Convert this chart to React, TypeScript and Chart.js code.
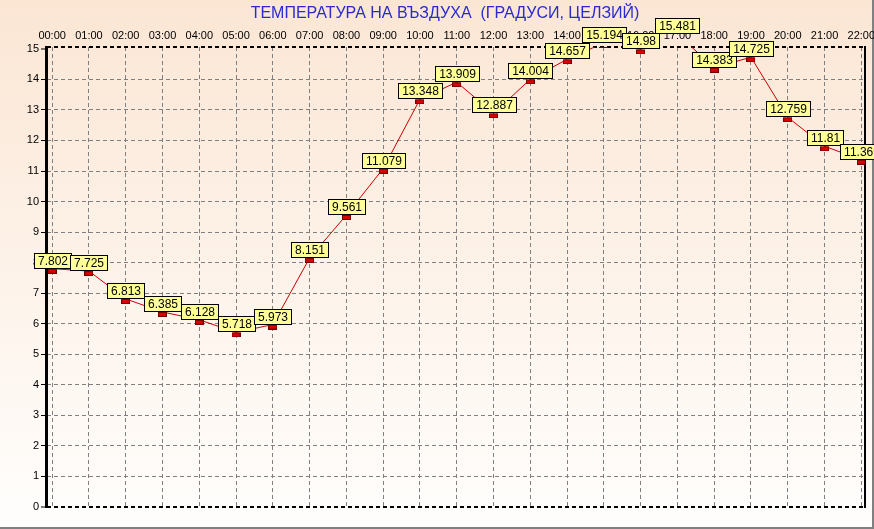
import React, { useEffect, useRef } from 'react';
import { Chart, registerables } from 'chart.js';

Chart.register(...registerables);

const TITLE = 'ТЕМПЕРАТУРА НА ВЪЗДУХА  (ГРАДУСИ, ЦЕЛЗИЙ)';
const hours = [
  '00:00', '01:00', '02:00', '03:00', '04:00', '05:00', '06:00', '07:00',
  '08:00', '09:00', '10:00', '11:00', '12:00', '13:00', '14:00', '15:00',
  '16:00', '17:00', '18:00', '19:00', '20:00', '21:00', '22:00',
];
const temps = [
  7.802, 7.725, 6.813, 6.385, 6.128, 5.718, 5.973, 8.151, 9.561, 11.079,
  13.348, 13.909, 12.887, 14.004, 14.657, 15.194, 14.98, 15.481, 14.383,
  14.725, 12.759, 11.81, 11.369,
];
const Y_MIN = 0;
const Y_MAX = 15.06;
const Y_TOP_TICK = 15;

const FONT = 'Arial, "Liberation Sans", sans-serif';

export default function App() {
  const ref = useRef<HTMLCanvasElement>(null);

  useEffect(() => {
    const canvas = ref.current!;
    // marker: small red bar hanging just below the data point
    const marker = document.createElement('canvas');
    marker.width = 9;
    marker.height = 10;
    const m = marker.getContext('2d')!;
    m.fillStyle = '#7a0000';
    m.fillRect(0, 5, 9, 5);
    m.fillStyle = '#d80000';
    m.fillRect(1, 6, 7, 3);

    const decor = {
      id: 'decor',
      beforeDraw(chart: any) {
        const { ctx, width, height } = chart;
        ctx.save();
        const g = ctx.createLinearGradient(0, 0, 0, height);
        g.addColorStop(0, '#fbe6d4');
        g.addColorStop(1, '#fffefd');
        ctx.fillStyle = g;
        ctx.fillRect(0, 0, width, height);
        ctx.fillStyle = '#808080';
        ctx.fillRect(width - 2, 0, 2, height);
        ctx.fillRect(0, height - 2, width, 2);
        ctx.font = '16px ' + FONT;
        ctx.fillStyle = '#2a2acf';
        ctx.textAlign = 'center';
        ctx.textBaseline = 'middle';
        ctx.fillText(TITLE, 445, 14);
        ctx.restore();
      },
      beforeDatasetsDraw(chart: any) {
        const { ctx, chartArea: a } = chart;
        ctx.save();
        ctx.strokeStyle = '#000';
        ctx.lineWidth = 2;
        ctx.setLineDash([4, 3]);
        ctx.beginPath();
        ctx.moveTo(a.left, a.top);
        ctx.lineTo(a.right, a.top);
        ctx.stroke();
        ctx.setLineDash([]);
        ctx.fillStyle = '#000';
        ctx.fillRect(a.left - 2, a.top - 1, 3, a.bottom - a.top + 2);
        ctx.fillRect(a.right - 1, a.top - 1, 2, a.bottom - a.top + 2);
        ctx.restore();
      },
      afterDraw(chart: any) {
        const { ctx } = chart;
        const meta = chart.getDatasetMeta(0);
        ctx.save();
        ctx.font = '12px ' + FONT;
        ctx.textAlign = 'center';
        ctx.textBaseline = 'middle';
        meta.data.forEach((pt: any, i: number) => {
          const text = String(temps[i]);
          const w = Math.round(ctx.measureText(text).width + 7);
          const h = 15;
          const x = Math.round(pt.x - w / 2) + 0.5;
          const y = Math.round(pt.y - h) - 0.5;
          ctx.fillStyle = '#ffff99';
          ctx.fillRect(x, y, w, h);
          ctx.strokeStyle = '#000';
          ctx.lineWidth = 1;
          ctx.strokeRect(x, y, w, h);
          ctx.fillStyle = '#000';
          ctx.fillText(text, x + w / 2, y + h / 2 + 0.5);
        });
        ctx.restore();
      },
    };

    const isEdge = (c: any) => c.tick && (c.tick.value === Y_MIN || c.tick.value === Y_TOP_TICK);

    const chart = new Chart(canvas, {
      type: 'line',
      data: {
        datasets: [
          {
            data: temps.map((v, i) => ({ x: i, y: v })),
            borderColor: '#cc0000',
            borderWidth: 1,
            pointStyle: marker as any,
            pointRadius: 4,
            pointHoverRadius: 4,
            tension: 0,
            clip: 0 as any,
          },
        ],
      },
      options: {
        responsive: false,
        animation: false,
        devicePixelRatio: 1,
        events: [],
        layout: { autoPadding: false, padding: { left: 0, top: 0, right: 9, bottom: 22 } } as any,
        plugins: { legend: { display: false }, title: { display: false }, tooltip: { enabled: false } },
        scales: {
          x: {
            type: 'linear',
            position: 'top',
            min: -0.14,
            max: 22.1,
            ticks: {
              stepSize: 1,
              includeBounds: false,
              autoSkip: false,
              maxRotation: 0,
              padding: 4,
              color: '#000',
              font: { size: 11, family: FONT },
              callback: (v: any) => hours[v] ?? '',
            },
            grid: { color: '#808080', lineWidth: 1, drawTicks: false },
            border: { display: false, dash: [4, 3] },
            afterFit: (s: any) => {
              s.height = 47;
              s.paddingLeft = 0;
              s.paddingRight = 0;
            },
          } as any,
          y: {
            min: Y_MIN,
            max: Y_MAX,
            ticks: {
              stepSize: 1,
              includeBounds: false,
              padding: 2,
              color: '#000',
              font: { size: 11, family: FONT },
            },
            grid: {
              color: (c: any) =>
                c.tick && c.tick.value === Y_TOP_TICK ? 'rgba(0,0,0,0)' : isEdge(c) ? '#000' : '#808080',
              lineWidth: (c: any) => (isEdge(c) ? 2 : 1),
              tickLength: 6,
              tickColor: '#000',
              tickWidth: 1,
              tickBorderDash: [],
            },
            border: { display: false, dash: [4, 3] },
            afterFit: (s: any) => {
              s.width = 47;
              s.paddingTop = 0;
              s.paddingBottom = 0;
            },
          } as any,
        },
      },
      plugins: [decor],
    });

    return () => chart.destroy();
  }, []);

  return (
    <div style={{ position: 'fixed', left: 0, top: 0, width: 874, height: 529 }}>
      <canvas ref={ref} width={874} height={529} style={{ width: 874, height: 529, display: 'block' }} />
    </div>
  );
}
